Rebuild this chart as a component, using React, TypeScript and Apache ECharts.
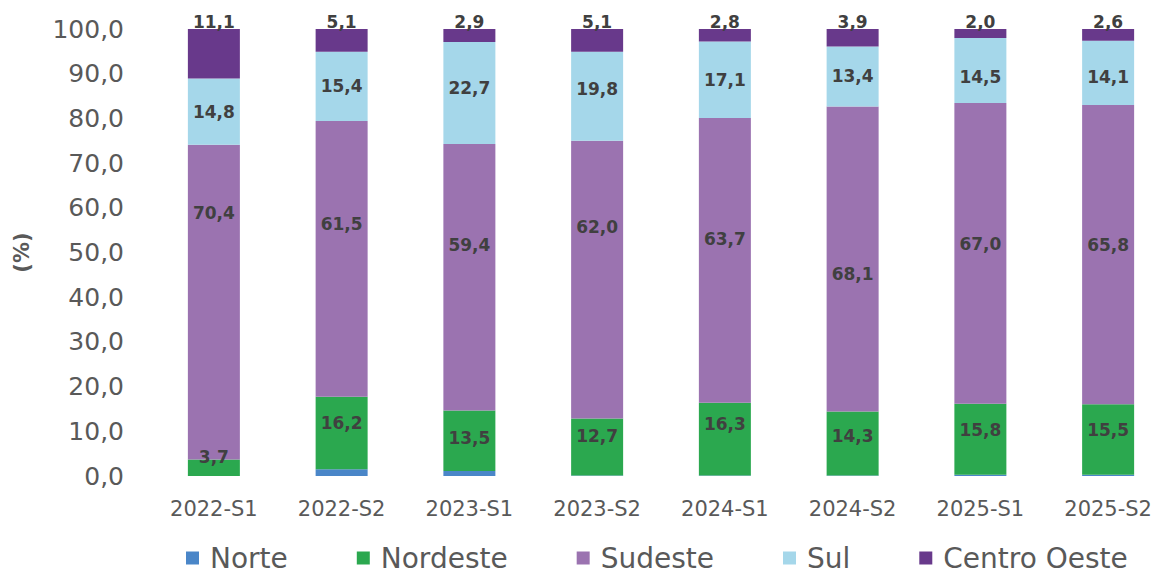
import React, { useEffect, useRef } from "react";
import * as echarts from "echarts";

const categories = ["2022-S1", "2022-S2", "2023-S1", "2023-S2", "2024-S1", "2024-S2", "2025-S1", "2025-S2"];
const norte = [0, 1.5, 1.1, 0.1, 0.1, 0.1, 0.3, 0.3];
const nordeste = [3.7, 16.2, 13.5, 12.7, 16.3, 14.3, 15.8, 15.5];
const sudeste = [70.4, 61.5, 59.4, 62.0, 63.7, 68.1, 67.0, 65.8];
const sul = [14.8, 15.4, 22.7, 19.8, 17.1, 13.4, 14.5, 14.1];
const centroOeste = [11.1, 5.1, 2.9, 5.1, 2.8, 3.9, 2.0, 2.6];
const yTicks = { min: 0, max: 100, interval: 10 };

// label vertical nudges (style only)
const nordesteLabelDy = [-11, -10, -3, -11, -15, -8, -9, -9];
const sudesteLabelDy = [-89, -35, -32, -53, -21, 15, -9, -10];
const sulLabelDy = [0, 0, -5, -7, 0, 0, 6, 4];

const fmt = (v: number) => v.toFixed(1).replace(".", ",");

export default function App() {
  const ref = useRef<HTMLDivElement>(null);
  useEffect(() => {
    if (!ref.current) return;
    const chart = echarts.init(ref.current, null, { renderer: "svg" });
    const totals = categories.map(
      (_, i) => norte[i] + nordeste[i] + sudeste[i] + sul[i] + centroOeste[i]
    );
    const labelStyle = {
      color: "#404040",
      fontFamily: "DejaVu Sans",
      fontWeight: "bold" as const,
      fontSize: 17,
    };
    const mk = (
      name: string,
      values: number[],
      color: string,
      dy: number[] | null,
      showLabel: boolean,
      top?: boolean
    ) => ({
      name,
      type: "bar",
      stack: "total",
      barWidth: 52,
      itemStyle: { color },
      label: {
        show: showLabel,
        position: top ? "top" : "inside",
        distance: top ? -1 : 5,
        ...labelStyle,
        formatter: (p: any) => fmt(values[p.dataIndex]),
      },
      data: values.map((v, i) => ({
        value: (v / totals[i]) * 100,
        label: dy ? { offset: [0, dy[i]] } : undefined,
      })),
    });
    chart.setOption({
      animation: false,
      grid: { left: 150, top: 29, right: 8, bottom: 97 },
      legend: {
        left: 181,
        top: 539,
        icon: "rect",
        itemWidth: 13,
        itemHeight: 13,
        itemGap: 69,
        textStyle: {
          color: "#595959",
          fontSize: 28,
          fontFamily: "DejaVu Sans",
          padding: [0, 0, 0, 6],
        },
        data: ["Norte", "Nordeste", "Sudeste", "Sul", "Centro Oeste"],
      },
      xAxis: {
        type: "category",
        data: categories,
        axisLine: { show: false },
        axisTick: { show: false },
        axisLabel: {
          color: "#595959",
          fontSize: 21,
          fontFamily: "DejaVu Sans",
          margin: 22,
        },
      },
      yAxis: {
        type: "value",
        min: yTicks.min,
        max: yTicks.max,
        interval: yTicks.interval,
        name: "(%)",
        nameLocation: "middle",
        nameGap: 118,
        nameTextStyle: {
          color: "#595959",
          fontSize: 21,
          fontWeight: "bold",
          fontFamily: "DejaVu Sans",
        },
        splitLine: { show: false },
        axisLine: { show: false },
        axisTick: { show: false },
        axisLabel: {
          color: "#595959",
          fontSize: 25,
          fontFamily: "DejaVu Sans",
          margin: 26,
          formatter: (v: number) => fmt(v),
        },
      },
      series: [
        mk("Norte", norte, "#4a86c8", null, false),
        mk("Nordeste", nordeste, "#2ba84f", nordesteLabelDy, true),
        mk("Sudeste", sudeste, "#9b73b0", sudesteLabelDy, true),
        mk("Sul", sul, "#a5d7ea", sulLabelDy, true),
        mk("Centro Oeste", centroOeste, "#68398b", null, true, true),
      ],
    });
    return () => chart.dispose();
  }, []);
  return (
    <div
      ref={ref}
      style={{ position: "fixed", left: 0, top: 0, width: 1180, height: 573, background: "#fff" }}
    />
  );
}
